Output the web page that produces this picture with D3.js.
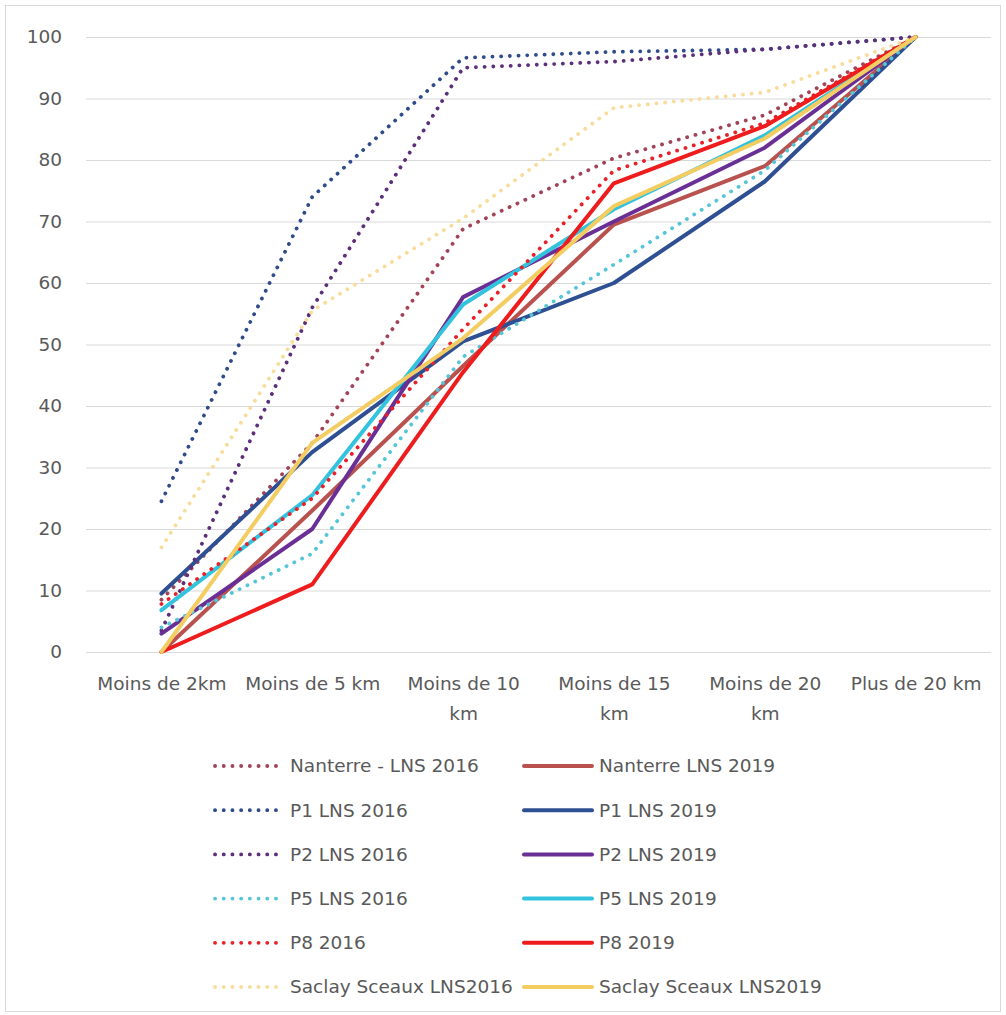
<!DOCTYPE html>
<html>
<head>
<meta charset="utf-8">
<script src="https://cdn.jsdelivr.net/npm/d3@7"></script>
<style>
  html, body { margin: 0; padding: 0; background: #fff; }
  svg { display: block; }
  text { font-family: "DejaVu Sans", sans-serif; fill: #595959; }
</style>
</head>
<body>
<div id="chart"></div>
<script>
/* ---- Data ---- */
const categories = ['2km', '5km', '10km', '15km', '20km', '20plus'];
const xTickLabels = ['Moins de 2km', 'Moins de 5 km', 'Moins de 10\nkm', 'Moins de 15\nkm', 'Moins de 20\nkm', 'Plus de 20 km'];
const yTicks = [0, 10, 20, 30, 40, 50, 60, 70, 80, 90, 100];

const seriesNames = [
  'Nanterre - LNS 2016', 'Nanterre LNS 2019',
  'P1 LNS 2016', 'P1 LNS 2019',
  'P2 LNS 2016', 'P2 LNS 2019',
  'P5 LNS 2016', 'P5 LNS 2019',
  'P8 2016', 'P8 2019',
  'Saclay Sceaux LNS2016', 'Saclay Sceaux LNS2019'
];
const nanterre2016 = [8.5, 34, 68.8, 80.3, 87.3, 100];
const nanterre2019 = [0, 23, 46.5, 69.5, 79, 100];
const p1_2016      = [24.5, 74, 96.6, 97.6, 98, 100];
const p1_2019      = [9.5, 32.5, 50.5, 60, 76.5, 100];
const p2_2016      = [3.5, 56, 95, 96, 98, 100];
const p2_2019      = [3, 20, 57.7, 70, 82, 100];
const p5_2016      = [4, 16, 48, 63, 78.3, 100];
const p5_2019      = [6.8, 25.5, 56.5, 72, 84, 100];
const p8_2016      = [7.8, 25, 52.5, 78.3, 86, 100];
const p8_2019      = [0, 11, 45.5, 76.2, 85.5, 100];
const saclay2016   = [17, 55.5, 70.5, 88.5, 91, 100];
const saclay2019   = [0, 34, 51, 72.5, 83.5, 100];

const seriesValues = [
  nanterre2016, nanterre2019, p1_2016, p1_2019, p2_2016, p2_2019,
  p5_2016, p5_2019, p8_2016, p8_2019, saclay2016, saclay2019
];
const seriesColors = [
  '#a24458', '#b9524f',
  '#2f4b8a', '#2f4f93',
  '#5d2f7a', '#6a2f95',
  '#55c6d8', '#34c3de',
  '#e8202a', '#ee1c1c',
  '#f8dc9c', '#f3cd62'
];
const seriesDotted = [true, false, true, false, true, false, true, false, true, false, true, false];

/* ---- Layout ---- */
const W = 1006, H = 1015;
const plot = { left: 86, right: 991, top: 37, bottom: 652 };
const FONT = '18.5px';

const svg = d3.select('#chart').append('svg')
  .attr('width', W).attr('height', H);

svg.append('rect')
  .attr('x', 5.5).attr('y', 5.5)
  .attr('width', W - 11).attr('height', H - 9)
  .attr('fill', '#fff').attr('stroke', '#d9d9d9');

const x = d3.scalePoint().domain(categories).range([plot.left, plot.right]).padding(0.5);
const y = d3.scaleLinear().domain([0, 100]).range([plot.bottom, plot.top]);

/* ---- Grid + y labels ---- */
const yAxis = svg.append('g')
  .attr('transform', `translate(${plot.left},0)`)
  .call(d3.axisLeft(y).tickValues(yTicks).tickSize(-(plot.right - plot.left)).tickPadding(24));
yAxis.select('.domain').remove();
yAxis.selectAll('.tick line').attr('stroke', '#d9d9d9').attr('stroke-width', 1.2);
yAxis.selectAll('.tick text')
  .style('font-size', FONT)
  .style('fill', '#595959');

/* ---- x labels ---- */
const xAxis = svg.append('g')
  .attr('transform', `translate(0,${plot.bottom})`)
  .call(d3.axisBottom(x).tickSize(0).tickFormat(''));
xAxis.select('.domain').remove();
xAxis.selectAll('.tick').each(function (d, i) {
  const lines = xTickLabels[i].split('\n');
  const t = d3.select(this).append('text')
    .attr('text-anchor', 'middle')
    .style('font-size', FONT)
    .style('fill', '#595959');
  lines.forEach((ln, j) => {
    t.append('tspan').attr('x', 0).attr('y', 38 + j * 30).text(ln);
  });
});

/* ---- Lines ---- */
const line = d3.line()
  .x((d, i) => x(categories[i]))
  .y(d => y(d));

function styleStroke(sel, i) {
  sel.attr('stroke', seriesColors[i])
    .attr('fill', 'none')
    .attr('stroke-linejoin', 'round');
  if (seriesDotted[i]) {
    sel.attr('stroke-width', 3.8)
      .attr('stroke-linecap', 'round')
      .attr('stroke-dasharray', '0.1 8.6');
  } else {
    sel.attr('stroke-width', 4)
      .attr('stroke-linecap', 'round');
  }
}

seriesValues.forEach((vals, i) => {
  svg.append('path')
    .datum(vals)
    .attr('d', line)
    .call(styleStroke, i);
});

/* ---- Legend ---- */
const legend = svg.append('g');
const legRowY = d3.range(6).map(r => 766 + r * 44.2);
const legColX = [213, 522];
seriesNames.forEach((name, i) => {
  const col = i % 2, row = Math.floor(i / 2);
  const g = legend.append('g').attr('transform', `translate(${legColX[col]},${legRowY[row]})`);
  g.append('path').attr('d', 'M2,0H70').call(styleStroke, i);
  g.append('text')
    .attr('x', 77).attr('y', 0)
    .attr('dy', '0.35em')
    .style('font-size', FONT)
    .text(name);
});
</script>
</body>
</html>
